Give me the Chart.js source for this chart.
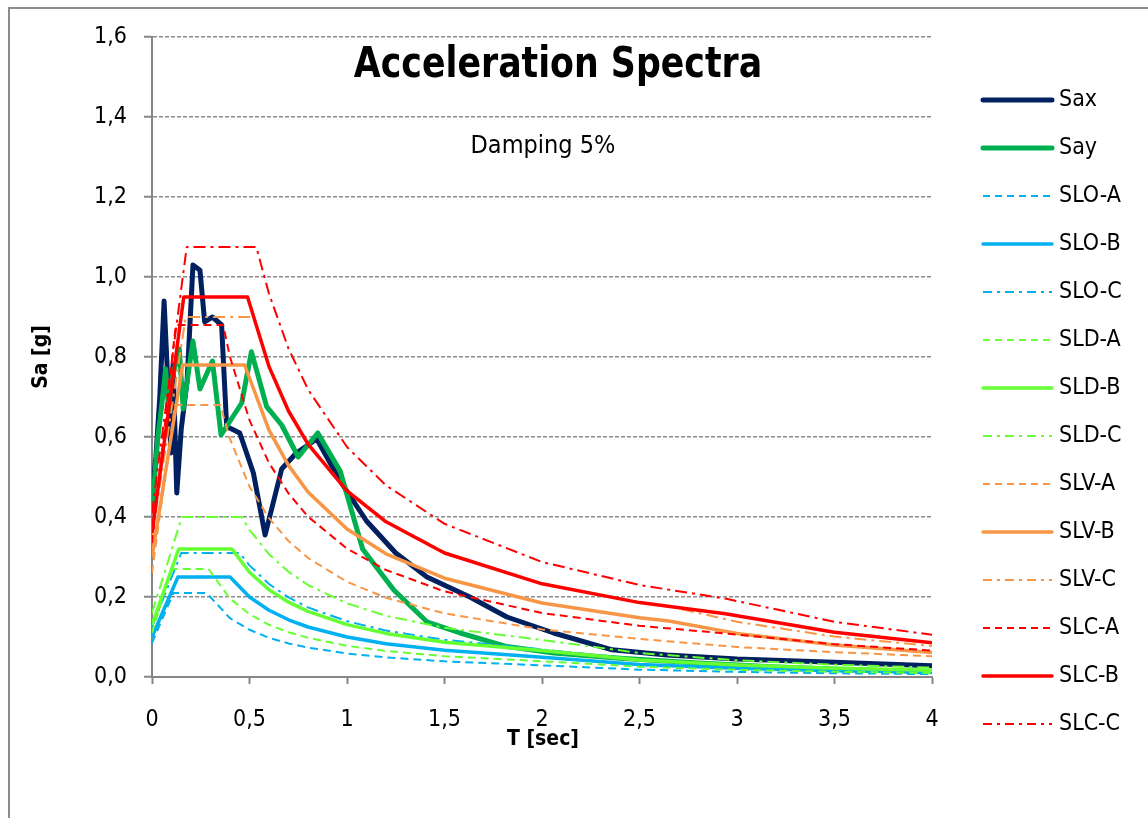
<!DOCTYPE html>
<html>
<head>
<meta charset="utf-8">
<script src="https://cdn.jsdelivr.net/npm/chart.js@4.4.1/dist/chart.umd.min.js"></script>
<style>
  html, body { margin: 0; padding: 0; background: #fff; overflow: hidden; }
  #wrap { position: relative; width: 1148px; height: 818px; }
  #frame { position: absolute; left: 8px; top: 7px; width: 1200px; height: 900px; border: 2px solid #8c8c8c; box-sizing: border-box; }
  canvas { position: absolute; left: 0; top: 0; }
</style>
</head>
<body>
<div id="wrap">
  <div id="frame"></div>
  <canvas id="spectraChart" width="1148" height="818"></canvas>
</div>
<script>
        // Tick labels
        const X_TICKS = ['0', '0,5', '1', '1,5', '2', '2,5', '3', '3,5', '4'];
        const Y_TICKS = ['0,0', '0,2', '0,4', '0,6', '0,8', '1,0', '1,2', '1,4', '1,6'];

        // Recorded spectra
        const T_SAX = [0, 0.02, 0.04, 0.062, 0.08, 0.097, 0.108, 0.127, 0.15, 0.18, 0.21, 0.246, 0.27, 0.31, 0.357, 0.383, 0.45, 0.52, 0.58, 0.665, 0.74, 0.845, 0.965, 1.10, 1.25, 1.41, 1.63, 1.82, 2.06, 2.36, 2.64, 3.0, 3.5, 4.0];
        const SAX = [0.45, 0.55, 0.70, 0.94, 0.75, 0.56, 0.78, 0.46, 0.62, 0.74, 1.03, 1.017, 0.888, 0.90, 0.88, 0.626, 0.61, 0.51, 0.355, 0.52, 0.56, 0.595, 0.49, 0.39, 0.31, 0.25, 0.20, 0.15, 0.11, 0.068, 0.055, 0.045, 0.037, 0.028];

        const T_SAY = [0, 0.03, 0.05, 0.07, 0.085, 0.10, 0.14, 0.16, 0.21, 0.246, 0.31, 0.354, 0.46, 0.51, 0.588, 0.665, 0.75, 0.85, 0.965, 1.08, 1.24, 1.41, 1.58, 1.82, 2.06, 2.4, 2.8, 3.2, 3.6, 4.0];
        const SAY = [0.41, 0.60, 0.68, 0.77, 0.67, 0.74, 0.82, 0.67, 0.84, 0.72, 0.79, 0.605, 0.685, 0.813, 0.676, 0.63, 0.55, 0.61, 0.515, 0.32, 0.2175, 0.138, 0.11, 0.076, 0.06, 0.047, 0.035, 0.025, 0.018, 0.013];

        // Design spectra (SLO / SLD / SLV / SLC, soil A-B-C)
        const T_SLO_A = [0, 0.11, 0.28, 0.4, 0.5, 0.6, 0.7, 0.8, 1.0, 1.2, 1.5, 1.95, 2.5, 3.0, 3.5, 4.0];
        const SLO_A = [0.085, 0.21, 0.21, 0.147, 0.118, 0.098, 0.084, 0.0735, 0.0588, 0.049, 0.0392, 0.0302, 0.0184, 0.0127, 0.0094, 0.0072];
        const T_SLO_B = [0, 0.133, 0.40, 0.5, 0.6, 0.7, 0.8, 1.0, 1.2, 1.5, 1.95, 2.5, 3.0, 3.5, 4.0];
        const SLO_B = [0.10, 0.25, 0.25, 0.20, 0.167, 0.143, 0.125, 0.10, 0.083, 0.067, 0.0513, 0.0312, 0.0217, 0.0159, 0.0122];
        const T_SLO_C = [0, 0.15, 0.45, 0.5, 0.6, 0.7, 0.8, 1.0, 1.2, 1.5, 1.95, 2.5, 3.0, 3.5, 4.0];
        const SLO_C = [0.125, 0.31, 0.31, 0.279, 0.2325, 0.199, 0.174, 0.1395, 0.116, 0.093, 0.0715, 0.0435, 0.0302, 0.0222, 0.0170];

        const T_SLD_A = [0, 0.10, 0.29, 0.4, 0.5, 0.6, 0.7, 0.8, 1.0, 1.2, 1.5, 2.04, 2.5, 3.0, 3.5, 4.0];
        const SLD_A = [0.11, 0.27, 0.27, 0.196, 0.157, 0.1305, 0.112, 0.098, 0.078, 0.065, 0.052, 0.0384, 0.0256, 0.0178, 0.0131, 0.0100];
        const T_SLD_B = [0, 0.137, 0.41, 0.5, 0.6, 0.7, 0.8, 1.0, 1.2, 1.5, 2.04, 2.5, 3.0, 3.5, 4.0];
        const SLD_B = [0.13, 0.32, 0.32, 0.262, 0.218, 0.187, 0.164, 0.131, 0.109, 0.087, 0.0642, 0.0427, 0.0297, 0.0218, 0.0167];
        const T_SLD_C = [0, 0.153, 0.46, 0.5, 0.6, 0.7, 0.8, 1.0, 1.2, 1.5, 2.04, 2.5, 3.0, 3.5, 4.0];
        const SLD_C = [0.16, 0.40, 0.40, 0.368, 0.307, 0.263, 0.23, 0.184, 0.153, 0.123, 0.090, 0.060, 0.0417, 0.0306, 0.0234];

        const T_SLV_A = [0, 0.117, 0.35, 0.4, 0.5, 0.6, 0.7, 0.8, 1.0, 1.2, 1.5, 2.0, 2.5, 3.0, 3.5, 4.0];
        const SLV_A = [0.26, 0.68, 0.68, 0.595, 0.476, 0.397, 0.34, 0.2975, 0.238, 0.198, 0.159, 0.119, 0.0952, 0.075, 0.062, 0.052];
        const T_SLV_B = [0, 0.157, 0.475, 0.6, 0.7, 0.8, 1.0, 1.2, 1.5, 2.0, 2.5, 2.65, 3.0, 3.5, 4.0];
        const SLV_B = [0.30, 0.78, 0.78, 0.617, 0.529, 0.4625, 0.37, 0.308, 0.247, 0.185, 0.148, 0.140, 0.109, 0.080, 0.061];
        const T_SLV_C = [0, 0.173, 0.52, 0.6, 0.7, 0.8, 1.0, 1.2, 1.5, 2.0, 2.5, 2.65, 3.0, 3.5, 4.0];
        const SLV_C = [0.35, 0.90, 0.90, 0.78, 0.669, 0.585, 0.468, 0.39, 0.312, 0.234, 0.187, 0.177, 0.138, 0.101, 0.0775];

        const T_SLC_A = [0, 0.122, 0.365, 0.4, 0.5, 0.6, 0.7, 0.8, 1.0, 1.2, 1.5, 2.0, 2.5, 2.94, 3.5, 4.0];
        const SLC_A = [0.335, 0.88, 0.88, 0.80, 0.642, 0.535, 0.459, 0.401, 0.321, 0.2675, 0.214, 0.16, 0.128, 0.109, 0.082, 0.066];
        const T_SLC_B = [0, 0.163, 0.49, 0.6, 0.7, 0.8, 1.0, 1.2, 1.5, 2.0, 2.5, 2.94, 3.5, 4.0];
        const SLC_B = [0.36, 0.95, 0.95, 0.776, 0.665, 0.582, 0.4655, 0.388, 0.310, 0.233, 0.186, 0.158, 0.112, 0.0855];
        const T_SLC_C = [0, 0.178, 0.535, 0.6, 0.7, 0.8, 1.0, 1.2, 1.5, 2.0, 2.5, 2.94, 3.5, 4.0];
        const SLC_C = [0.41, 1.075, 1.075, 0.958, 0.821, 0.719, 0.575, 0.479, 0.383, 0.2875, 0.23, 0.196, 0.138, 0.1056];

        const FONT = "'Liberation Sans Narrow', 'DejaVu Sans Condensed', 'Arial Narrow', sans-serif";
        const DASH = [8, 5];
        const DASHDOT = [12, 5, 3, 5];

        function pts(ts, vs) {
            return ts.map((t, i) => ({ x: t, y: vs[i] }));
        }

        // label, periods, values, colour, width, dash
        const series = [
            ['Sax', T_SAX, SAX, '#002060', 5, []],
            ['Say', T_SAY, SAY, '#00B050', 5, []],
            ['SLO-A', T_SLO_A, SLO_A, '#00B0F0', 2, DASH],
            ['SLO-B', T_SLO_B, SLO_B, '#00B0F0', 3.5, []],
            ['SLO-C', T_SLO_C, SLO_C, '#00B0F0', 2, DASHDOT],
            ['SLD-A', T_SLD_A, SLD_A, '#66FF33', 2, DASH],
            ['SLD-B', T_SLD_B, SLD_B, '#66FF33', 3.5, []],
            ['SLD-C', T_SLD_C, SLD_C, '#66FF33', 2, DASHDOT],
            ['SLV-A', T_SLV_A, SLV_A, '#F79646', 2, DASH],
            ['SLV-B', T_SLV_B, SLV_B, '#F79646', 3.5, []],
            ['SLV-C', T_SLV_C, SLV_C, '#F79646', 2, DASHDOT],
            ['SLC-A', T_SLC_A, SLC_A, '#FF0000', 2, DASH],
            ['SLC-B', T_SLC_B, SLC_B, '#FF0000', 3.5, []],
            ['SLC-C', T_SLC_C, SLC_C, '#FF0000', 2, DASHDOT]
        ];

        const datasets = series.map((s, i) => ({
            label: s[0],
            data: pts(s[1], s[2]),
            borderColor: s[3],
            backgroundColor: s[3],
            borderWidth: s[4],
            borderDash: s[5],
            order: series.length - i,
            fill: false
        }));

        // Texts and legend drawn on top of the chart
        const decorations = {
            id: 'decorations',
            afterDraw(chart) {
                const ctx = chart.ctx;
                ctx.save();
                ctx.fillStyle = '#000';
                ctx.textBaseline = 'middle';

                // title, slightly condensed
                ctx.textAlign = 'center';
                ctx.save();
                ctx.translate(558, 66);
                ctx.scale(0.92, 1);
                ctx.font = 'bold 42px ' + FONT;
                ctx.fillText('Acceleration Spectra', 0, 0);
                ctx.restore();

                ctx.font = '25px ' + FONT;
                ctx.fillText('Damping 5%', 543, 146);

                ctx.font = 'bold 21px ' + FONT;
                ctx.fillText('T [sec]', 543, 740);
                ctx.save();
                ctx.translate(42, 357);
                ctx.rotate(-Math.PI / 2);
                ctx.fillText('Sa [g]', 0, 0);
                ctx.restore();

                // legend
                ctx.textAlign = 'left';
                ctx.font = '23px ' + FONT;
                chart.data.datasets.forEach((ds, i) => {
                    const y = 100 + 48 * i;
                    ctx.beginPath();
                    ctx.setLineDash(ds.borderDash.length ? (ds.borderDash === DASH ? [7, 5] : [9, 5, 3, 5]) : []);
                    ctx.lineWidth = ds.borderWidth;
                    ctx.strokeStyle = ds.borderColor;
                    ctx.lineCap = ds.borderDash.length ? 'butt' : 'round';
                    ctx.moveTo(983, y);
                    ctx.lineTo(1052, y);
                    ctx.stroke();
                    ctx.fillText(ds.label, 1059, y);
                });
                ctx.restore();
            }
        };

        const spectraChart = new Chart(document.getElementById('spectraChart').getContext('2d'), {
            type: 'line',
            data: { datasets: datasets },
            plugins: [decorations],
            options: {
                responsive: false,
                animation: false,
                devicePixelRatio: 1,
                layout: { padding: { left: 0, right: 216, top: 37, bottom: 0 } },
                plugins: {
                    legend: { display: false },
                    tooltip: { enabled: false }
                },
                elements: {
                    point: { radius: 0 },
                    line: { tension: 0, borderJoinStyle: 'round' }
                },
                scales: {
                    x: {
                        type: 'linear',
                        min: 0,
                        max: 4,
                        afterFit: function(scale) { scale.height = 141; },
                        ticks: {
                            stepSize: 0.5,
                            autoSkip: false,
                            maxRotation: 0,
                            padding: 22,
                            color: '#000',
                            font: { family: FONT, size: 23 },
                            callback: function(value, index) { return X_TICKS[index]; }
                        },
                        grid: { drawOnChartArea: false, drawTicks: true, tickLength: 7, tickColor: '#868686', tickWidth: 2 },
                        border: { color: '#868686', width: 2 }
                    },
                    y: {
                        min: 0,
                        max: 1.6,
                        afterFit: function(scale) { scale.width = 152; },
                        ticks: {
                            stepSize: 0.2,
                            padding: 17,
                            color: '#000',
                            font: { family: FONT, size: 23 },
                            callback: function(value, index) { return Y_TICKS[index]; }
                        },
                        grid: { color: '#8c8c8c', lineWidth: 1.5, tickLength: 8, tickColor: '#868686', tickWidth: 2 },
                        border: { color: '#868686', width: 2, dash: [4, 2] }
                    }
                }
            }
        });
</script>
</body>
</html>
